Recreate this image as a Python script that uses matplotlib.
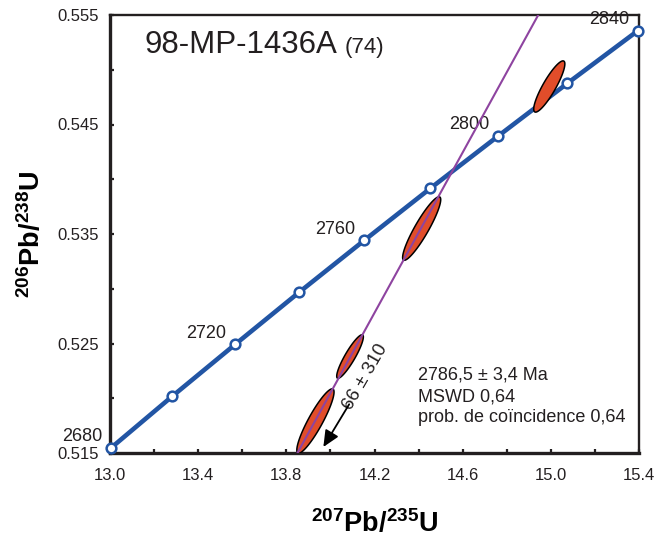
import numpy as np
import matplotlib.pyplot as plt
from matplotlib.patches import Polygon

plt.rcParams['font.family'] = ['Liberation Sans', 'DejaVu Sans']
plt.rcParams['mathtext.fontset'] = 'custom'
plt.rcParams['mathtext.rm'] = 'Liberation Sans'
plt.rcParams['mathtext.bf'] = 'Liberation Sans:bold'
plt.rcParams['text.color'] = '#231F20'

# concordia points (age in Ma, 207Pb/235U, 206Pb/238U)
conc_age = [2680, 2700, 2720, 2740, 2760, 2780, 2800, 2820, 2840]
conc_x = [13.005, 13.283, 13.568, 13.857, 14.153, 14.454, 14.762, 15.075, 15.395]
conc_y = [0.51547, 0.52019, 0.52492, 0.52966, 0.53441, 0.53918, 0.54396, 0.54876, 0.55357]
labelled_ages = [2680, 2720, 2760, 2800, 2840]

# discordia: lower intercept (66 Ma) and upper intercept (2786.5 Ma)
disc_x = [0.0672, 14.5534]
disc_y = [0.01029, 0.54074]

# zircon analyses: centre, sigma and error correlation
ell_x = [13.932, 14.089, 14.414, 14.993]
ell_sx = [0.0844, 0.0604, 0.0864, 0.0706]
ell_y = [0.51792, 0.52381, 0.53550, 0.54847]
ell_sy = [0.00294, 0.00199, 0.00290, 0.00234]
ell_rho = [0.90, 0.90, 0.91, 0.88]

blue = '#2255A4'
orange = '#E14D2A'
purple = '#8E44A0'
dark = '#231F20'

fig = plt.figure(figsize=(6.68, 5.39), dpi=100)
ax = fig.add_axes([110 / 668, 1 - 453 / 539, 529 / 668, 438 / 539])

# error ellipses
t = np.linspace(0, 2 * np.pi, 200)
for cx, sx, cy, sy, r in zip(ell_x, ell_sx, ell_y, ell_sy, ell_rho):
    ex = cx + sx * np.cos(t)
    ey = cy + sy * (r * np.cos(t) + np.sqrt(1 - r * r) * np.sin(t))
    ax.add_patch(Polygon(np.column_stack([ex, ey]), closed=True, facecolor=orange,
                         edgecolor='black', lw=1.1, zorder=4))

# concordia
ax.plot(conc_x, conc_y, color=blue, lw=3.3, zorder=3, clip_on=False, solid_capstyle='round')
ax.plot(conc_x, conc_y, 'o', mfc='white', mec=blue, ms=7, mew=1.8, zorder=6, clip_on=False)
for a, x, y in zip(conc_age, conc_x, conc_y):
    if a in labelled_ages:
        ax.annotate(str(a), (x, y), xytext=(-6.5, 8), textcoords='offset points',
                    ha='right', va='center', fontsize=13)

# discordia (through both intercepts, runs to the frame)
ax.axline((disc_x[0], disc_y[0]), (disc_x[1], disc_y[1]), color=purple, lw=1.5, zorder=5)

ax.set_xlim(13.0, 15.4)
ax.set_ylim(0.515, 0.555)

ax.set_xticks(np.arange(13.0, 15.41, 0.4))
ax.set_xticks(np.arange(13.0, 15.41, 0.2), minor=True)
ax.set_xticklabels(['%.1f' % v for v in np.arange(13.0, 15.41, 0.4)])
ax.set_yticks(np.arange(0.515, 0.5551, 0.01))
ax.set_yticks(np.arange(0.515, 0.5551, 0.005), minor=True)
ax.set_yticklabels(['%.3f' % v for v in np.arange(0.515, 0.5551, 0.01)])
ax.tick_params(which='both', direction='in', length=3, width=1.6, color=dark,
               top=False, right=False, labelsize=12, labelcolor=dark)
ax.tick_params(axis='x', pad=11)
ax.tick_params(axis='y', pad=8)

for side in ['left', 'bottom']:
    ax.spines[side].set_linewidth(2.4)
    ax.spines[side].set_color(dark)
for side in ['top', 'right']:
    ax.spines[side].set_linewidth(1.7)
    ax.spines[side].set_color(dark)

ax.set_xlabel(r'$\mathbf{^{207}Pb/^{235}U}$', fontsize=19.5, labelpad=19)
ax.set_ylabel(r'$\mathbf{^{206}Pb/^{238}U}$', fontsize=19.5, labelpad=8)

ax.text(0.066, 0.913, '98-MP-1436A', transform=ax.transAxes, fontsize=22.5, va='baseline')
ax.text(0.444, 0.913, '(74)', transform=ax.transAxes, fontsize=16, va='baseline')

ax.text(0.582, 0.178, '2786,5 \u00b1 3,4 Ma', transform=ax.transAxes, fontsize=13, va='center')
ax.text(0.582, 0.128, 'MSWD 0,64', transform=ax.transAxes, fontsize=13, va='center')
ax.text(0.582, 0.080, 'prob. de co\u00efncidence 0,64', transform=ax.transAxes, fontsize=13, va='center')

ax.text(14.16, 0.5219, '66 \u00b1 310', fontsize=13.5, rotation=60, ha='center', va='center',
        rotation_mode='anchor')
ax.annotate('', xy=(13.968, 0.51555), xytext=(14.085, 0.51945),
            arrowprops=dict(arrowstyle='-|>,head_length=0.55,head_width=0.25', color='black',
                            lw=1.3, mutation_scale=18, shrinkA=0, shrinkB=0))

fig.savefig('out.png', dpi=100)
